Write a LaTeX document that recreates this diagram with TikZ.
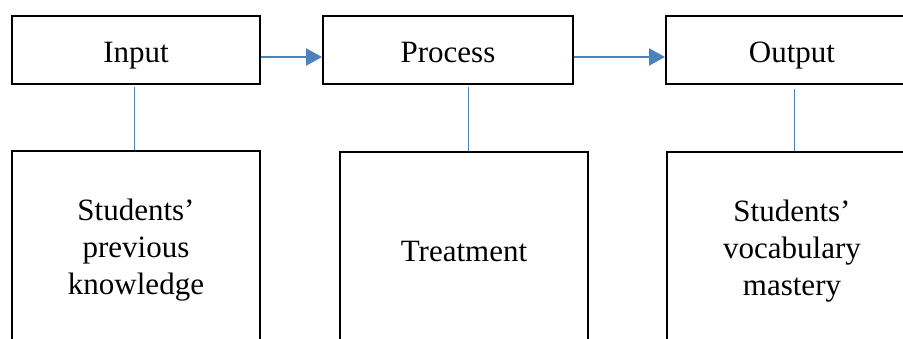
\documentclass[tikz,border=0pt]{standalone}
\usepackage{fontspec}
\setmainfont{Liberation Serif}
\usetikzlibrary{arrows.meta}
\definecolor{offblue}{HTML}{4F81BD}
\begin{document}
\begin{tikzpicture}[x=1pt,y=-1pt,
  topbox/.style={draw=black,line width=2pt,minimum height=68pt,inner sep=0pt,
    text height=24pt,text depth=0pt,
    font=\fontsize{31}{37}\selectfont},
  botbox/.style={draw=black,line width=2pt,minimum height=198pt,inner sep=0pt,align=center,
    font=\fontsize{31}{37}\selectfont},
  flow/.style={draw=offblue,line width=2.4pt,-{Triangle[length=16pt,width=17pt]}},
  link/.style={draw=offblue,line width=1pt}]
\clip (0,0) rectangle (903,338);
\fill[white] (0,0) rectangle (903,338);
\node[topbox,minimum width=248pt] (inp) at (136,50) {Input};
\node[topbox,minimum width=250pt] (proc) at (448,50) {Process};
\node[topbox,minimum width=252pt] (outp) at (792,50) {Output};
\node[botbox,minimum width=248pt] (bk) at (136,250) {Students'\\previous\\knowledge};
\node[botbox,minimum width=248pt] (tr) at (464,251) {Treatment};
\node[botbox,minimum width=250pt] (vm) at (792,251) {Students'\\vocabulary\\mastery};
\draw[flow] ([yshift=-7pt]inp.east) -- ([yshift=-7pt]proc.west);
\draw[flow] ([yshift=-7pt]proc.east) -- ([yshift=-7pt]outp.west);
\draw[link,shorten <=2pt] ([xshift=-2pt]inp.south -| bk.north) -- ([xshift=-2pt]bk.north);
\draw[link,shorten <=2pt] ([xshift=4pt]proc.south -| tr.north) -- ([xshift=4pt]tr.north);
\draw[link,shorten <=4pt] ([xshift=2pt]outp.south -| vm.north) -- ([xshift=2pt]vm.north);
\end{tikzpicture}
\end{document}
